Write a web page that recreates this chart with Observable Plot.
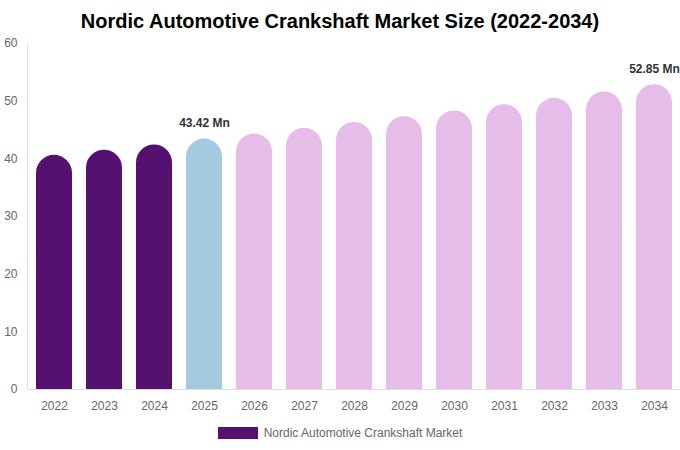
<!DOCTYPE html>
<html>
<head>
<meta charset="utf-8">
<script src="https://cdn.jsdelivr.net/npm/d3@7"></script>
<script src="https://cdn.jsdelivr.net/npm/@observablehq/plot@0.6"></script>
<style>
  body { margin: 0; background: #fff; font-family: "Liberation Sans", Arial, sans-serif; }
  #wrap { width: 680px; height: 450px; position: relative; overflow: hidden; }
  #title { height: 40px; line-height: 42px; text-align: center; font-size: 20px; font-weight: bold; color: #000; }
  #legend { height: 28px; display: flex; justify-content: center; align-items: center; font-size: 12px; color: #666; }
  #legend .sw { width: 40px; height: 12px; background: #541170; margin-right: 6px; }
</style>
</head>
<body>
<div id="wrap">
  <div id="title">Nordic Automotive Crankshaft Market Size (2022-2034)</div>
  <div id="chart"></div>
  <div id="legend"><span class="sw"></span><span>Nordic Automotive Crankshaft Market</span></div>
</div>
<script>
const years = ["2022","2023","2024","2025","2026","2027","2028","2029","2030","2031","2032","2033","2034"];
const values = [40.6, 41.5, 42.4, 43.42, 44.3, 45.3, 46.3, 47.3, 48.3, 49.4, 50.5, 51.6, 52.85];
const phases = ["hist","hist","hist","base","fcst","fcst","fcst","fcst","fcst","fcst","fcst","fcst","fcst"];
const labelYears = ["2025","2034"];
const yTicks = [0, 10, 20, 30, 40, 50, 60];

const data = years.map((y, i) => ({year: y, value: values[i], phase: phases[i]}));
const labels = data.filter(d => labelYears.includes(d.year));

const colorScale = {domain: ["hist","base","fcst"], range: ["#541170","#a3cbe0","#e6bde9"]};

const chart = Plot.plot({
  width: 680,
  height: 379,
  marginTop: 3,
  marginLeft: 27,
  marginRight: 0,
  marginBottom: 30,
  style: {overflow: "visible", fontFamily: "Liberation Sans, Arial, sans-serif", fontSize: "12px"},
  x: {domain: years, paddingInner: 0.28, paddingOuter: 0.12, label: null},
  y: {domain: [0, 60], ticks: yTicks, label: null},
  color: colorScale,
  marks: [
    Plot.frame({anchor: "left", stroke: "#e0e0e0"}),
    Plot.barY(data, {x: "year", y: "value", fill: "phase", rx: 18}),
    Plot.barY(data, {x: "year", y1: 0, y2: d => d.value / 2, fill: "phase"}),
    Plot.ruleY([0], {stroke: "#dddddd"}),
    Plot.axisY({ticks: yTicks, tickSize: 0, tickPadding: 10, fill: "#666", fontSize: 12, label: null}),
    Plot.axisX({tickSize: 0, tickPadding: 12, fill: "#666", fontSize: 12, label: null}),
    Plot.text(labels, {x: "year", y: "value", text: d => d.value.toFixed(2) + " Mn", dy: -16, fontWeight: "bold", fill: "#333", fontSize: 12})
  ]
});
document.getElementById("chart").appendChild(chart);
</script>
</body>
</html>
